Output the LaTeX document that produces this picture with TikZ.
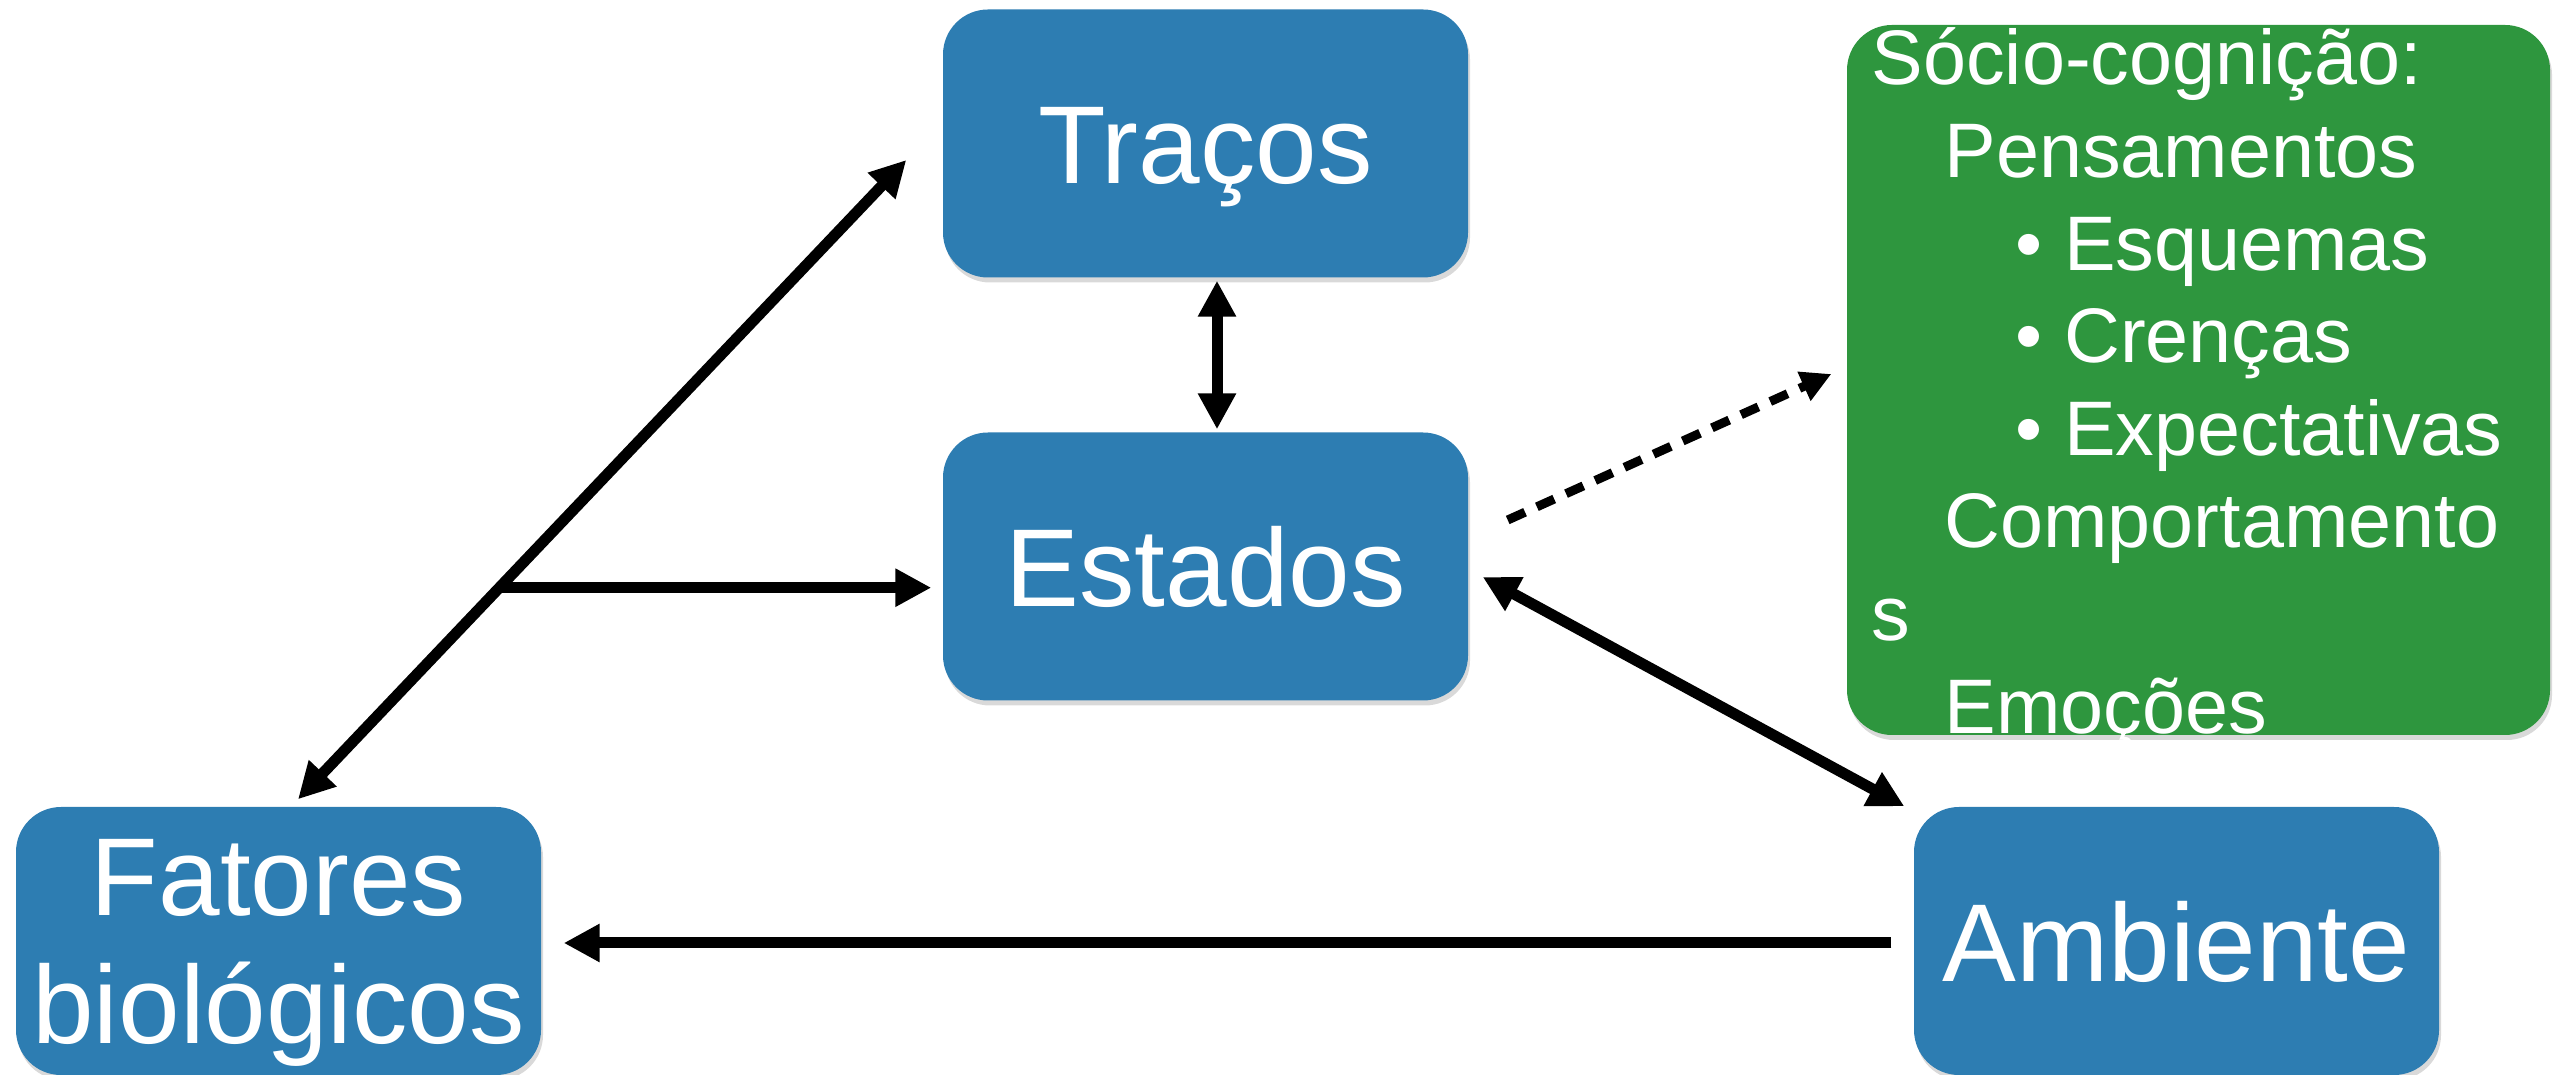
\documentclass[tikz,border=0pt]{standalone}
\usepackage{fontspec}
\setmainfont{Liberation Sans}
\usetikzlibrary{arrows.meta,calc,shadows}
\definecolor{caixaAzul}{RGB}{45,125,178}
\definecolor{caixaVerde}{RGB}{46,150,62}

\begin{document}
\begin{tikzpicture}[
  azul/.style={fill=caixaAzul, rounded corners=0.45cm, minimum width=5.25cm,
    minimum height=2.68cm, inner sep=0pt, text=white, align=center,
    font=\fontsize{31.5}{36.4}\selectfont,
    drop shadow={shadow xshift=0.02cm, shadow yshift=-0.05cm, opacity=0.3}},
  umaLinha/.style={text height=0.81cm, text depth=0cm},
  rotulo/.style={inner sep=0pt, text=white, align=center,
    font=\fontsize{31.5}{36.4}\selectfont},
  verde/.style={fill=caixaVerde, rounded corners=0.45cm, minimum width=7.03cm,
    minimum height=7.10cm, inner sep=0pt,
    drop shadow={shadow xshift=0.02cm, shadow yshift=-0.05cm, opacity=0.3}},
  gtexto/.style={anchor=base west, inner sep=0pt, text=white,
    font=\fontsize{22}{26}\selectfont},
  linha/.style={line width=0.11cm},
  duplo/.style={linha, {Triangle[length=0.36cm,width=0.36cm]}-{Triangle[length=0.36cm,width=0.36cm]}},
  seta/.style={linha, -{Triangle[length=0.36cm,width=0.36cm]}},
  tracejada/.style={line width=0.09cm, dash pattern=on 0.19cm off 0.13cm,
    -{Triangle[length=0.3cm,width=0.3cm]}}
]
  \useasboundingbox (0,0) rectangle (25.58,10.74);

  % Boxes
  \node (tra) at (12.055, 9.305) [azul, umaLinha] {Traços};
  \node (est) at (12.055, 5.075) [azul, umaLinha] {Estados};
  \node (fat) at (2.785, 1.33) [azul] {};
  \node (fatTexto) at ([yshift=-0.12cm]fat.center) [rotulo] {Fatores\\biológicos};
  \node (amb) at (21.765, 1.33) [azul, umaLinha] {Ambiente};

  % Socio-cognition box
  \node (soc) at (21.985, 6.94) [verde] {};
  \foreach \t/\x [count=\i from 0] in {{Sócio-cognição:}/18.71, Pensamentos/19.44,
      {• Esquemas}/20.15, {• Crenças}/20.15, {• Expectativas}/20.15,
      Comportamento/19.44, s/18.71, Emoções/19.44}
    \node (item\i) at (\x, {9.89-0.926*\i}) [gtexto] {\t};

  % Connectors
  \coordinate (fatTopo) at ([xshift=0.195cm, yshift=0.07cm]fat.north);
  \coordinate (traEsq) at ([xshift=-0.36cm, yshift=-0.165cm]tra.west);
  \coordinate (ramo) at ($(fatTopo)!0.331!(traEsq)$);

  \draw[duplo] (fatTopo) -- (traEsq);
  \draw[seta] (ramo) -- ([xshift=-0.11cm]est.west |- ramo);
  \draw[duplo] ([xshift=0.115cm, yshift=-0.025cm]tra.south)
    -- ([xshift=0.115cm, yshift=0.025cm]est.north);
  \draw[tracejada] ([xshift=0.39cm, yshift=0.465cm]est.east)
    -- ([xshift=-0.15cm, yshift=0.06cm]soc.west);
  \draw[duplo] ([xshift=0.14cm, yshift=-0.105cm]est.east)
    -- ([xshift=-0.09cm]amb.north west);
  \draw[seta] ([xshift=-0.22cm, yshift=-0.02cm]amb.west)
    -- ([xshift=0.22cm, yshift=-0.02cm]fat.east);

\end{tikzpicture}
\end{document}
